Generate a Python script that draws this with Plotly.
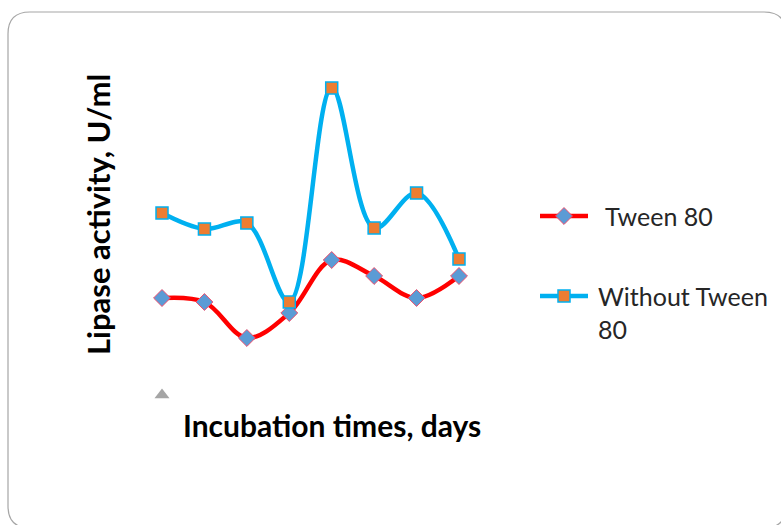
import plotly.graph_objects as go

# Incubation time points (days, unlabeled on the chart) and lipase activity (U/ml)
days = [1, 2, 3, 4, 5, 6, 7, 8]
tween_80 = [9.7, 9.3, 5.7, 8.2, 13.5, 11.9, 9.7, 11.9]
without_tween_80 = [18.2, 16.6, 17.2, 9.3, 30.7, 16.7, 20.2, 13.6]
series_names = ["Tween 80", "Without Tween<br>80"]
baseline_marker = [0]

W, H = 781, 525
RED = "#FF0000"
BLUE = "#00B0F0"
ORANGE = "#ED7D31"
STEEL = "#5B9BD5"
FONT = "Lato"

fig = go.Figure()

fig.add_trace(go.Scatter(
    x=days, y=tween_80, mode="lines+markers",
    line=dict(color=RED, width=4.5, shape="spline", smoothing=1.0),
    marker=dict(symbol="diamond", size=13, color=STEEL,
                line=dict(color="#F0506E", width=1)),
    showlegend=False, cliponaxis=False,
))
fig.add_trace(go.Scatter(
    x=days, y=without_tween_80, mode="lines+markers",
    line=dict(color=BLUE, width=4.5, shape="spline", smoothing=1.0),
    marker=dict(symbol="square", size=12, color=ORANGE,
                line=dict(color=BLUE, width=1.5)),
    showlegend=False, cliponaxis=False,
))
# small grey marker at the base of the first category
fig.add_trace(go.Scatter(
    x=days[:1], y=baseline_marker, mode="markers",
    marker=dict(symbol="triangle-up", size=13, color="#A5A5A5"),
    showlegend=False, cliponaxis=False,
))

# legend drawn on a pixel-space axis pair spanning the whole page
def legend_entry(y, color, symbol, msize, mfill, mline, mlw):
    fig.add_trace(go.Scatter(
        x=[540, 588], y=[y, y], mode="lines",
        xaxis="x2", yaxis="y2",
        line=dict(color=color, width=4.5),
        showlegend=False, hoverinfo="skip", cliponaxis=False,
    ))
    fig.add_trace(go.Scatter(
        x=[564], y=[y], mode="markers",
        xaxis="x2", yaxis="y2",
        marker=dict(symbol=symbol, size=msize, color=mfill,
                    line=dict(color=mline, width=mlw)),
        showlegend=False, hoverinfo="skip", cliponaxis=False,
    ))

legend_entry(216, RED, "diamond", 13, STEEL, "#F0506E", 1)
legend_entry(296, BLUE, "square", 12, ORANGE, BLUE, 1.5)

annotations = [
    dict(x=603, y=216, xref="x2", yref="y2", text=series_names[0],
         showarrow=False, xanchor="left", yanchor="middle",
         font=dict(family=FONT, size=25, color="#262626")),
    dict(x=596, y=279, xref="x2", yref="y2", text=series_names[1],
         showarrow=False, xanchor="left", yanchor="top", align="left",
         font=dict(family=FONT, size=25, color="#262626")),
]

# rounded frame around the chart
x0, y0, x1, y1, r = 8, 12, 786, 528, 22
def px(x):
    return x / W
def py(y):
    return 1 - y / H
frame = (
    f"M {px(x0 + r)},{py(y0)} L {px(x1 - r)},{py(y0)} "
    f"Q {px(x1)},{py(y0)} {px(x1)},{py(y0 + r)} "
    f"L {px(x1)},{py(y1 - r)} Q {px(x1)},{py(y1)} {px(x1 - r)},{py(y1)} "
    f"L {px(x0 + r)},{py(y1)} Q {px(x0)},{py(y1)} {px(x0)},{py(y1 - r)} "
    f"L {px(x0)},{py(y0 + r)} Q {px(x0)},{py(y0)} {px(x0 + r)},{py(y0)} Z"
)

fig.update_layout(
    width=W, height=H,
    margin=dict(l=0, r=0, t=0, b=0),
    paper_bgcolor="white", plot_bgcolor="rgba(0,0,0,0)",
    font=dict(family=FONT),
    xaxis=dict(range=[0.5, 8.5], domain=[140.8 / W, 480.2 / W],
               visible=False, fixedrange=True),
    yaxis=dict(range=[-2, 34], domain=[1 - 415 / H, 1 - 55 / H],
               visible=False, fixedrange=True),
    xaxis2=dict(range=[0, W], domain=[0, 1], anchor="y2",
                visible=False, fixedrange=True),
    yaxis2=dict(range=[H, 0], domain=[0, 1], anchor="x2",
                visible=False, fixedrange=True),
    shapes=[dict(type="path", path=frame, xref="paper", yref="paper",
                 line=dict(color="#A6A6A6", width=1.2), layer="below")],
    annotations=annotations + [
        dict(x=332 / W, y=1 - 425 / H, xref="paper", yref="paper",
             text="<b>Incubation times, days</b>", showarrow=False,
             xanchor="center", yanchor="middle",
             font=dict(family=FONT, size=30, color="black")),
        dict(x=98 / W, y=1 - 215 / H, xref="paper", yref="paper",
             text="<b>Lipase activity, U/ml</b>", showarrow=False,
             textangle=-90, xanchor="center", yanchor="middle",
             font=dict(family=FONT, size=31, color="black")),
    ],
)

fig.write_html("out.html")
